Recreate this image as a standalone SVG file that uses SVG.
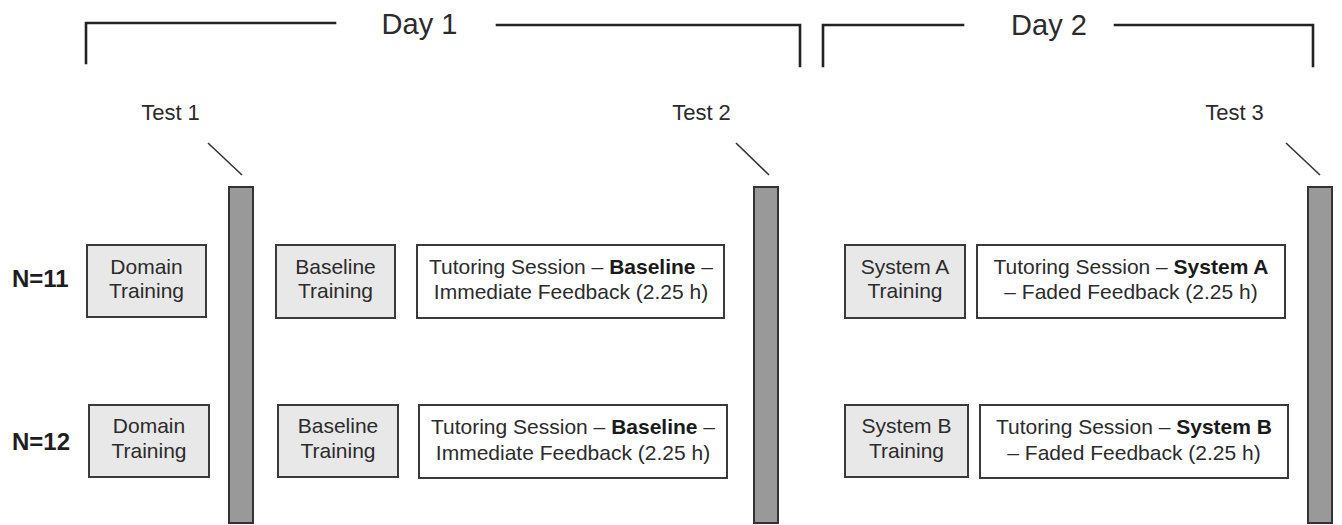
<svg xmlns="http://www.w3.org/2000/svg" width="1342" height="525" viewBox="0 0 1342 525">
  <style>
    text { font-family: "Liberation Sans", Arial, sans-serif; fill: #2b2b2b; }
    .day { font-size: 29px; }
    .test { font-size: 22px; }
    .grp { font-size: 24px; font-weight: bold; fill: #1e1e1e; }
    .lbl { font-size: 21px; text-anchor: middle; }
    .b { font-weight: bold; fill: #1a1a1a; }
    .bracket { fill: none; stroke: #222; stroke-width: 2.6; stroke-linecap: square; }
    .train { fill: #e8e8e8; stroke: #3a3a3a; stroke-width: 2; }
    .session { fill: #ffffff; stroke: #3a3a3a; stroke-width: 2; }
    .bar { fill: #999999; stroke: #333; stroke-width: 2; }
    .pointer { stroke: #333; stroke-width: 1.6; }
  </style>

  <!-- day brackets -->
  <g id="day1">
    <path class="bracket" d="M86,63 L86,23 L335,23"/>
    <path class="bracket" d="M497,25 L800,25 L800,66"/>
    <text class="day" x="419.5" y="33.5" text-anchor="middle">Day 1</text>
  </g>
  <g id="day2">
    <path class="bracket" d="M823,66 L823,25 L963,25"/>
    <path class="bracket" d="M1115,25 L1313,25 L1313,66"/>
    <text class="day" x="1049" y="34.5" text-anchor="middle">Day 2</text>
  </g>

  <!-- test bars -->
  <g id="test1">
    <text class="test" x="170.5" y="120" text-anchor="middle">Test 1</text>
    <rect class="bar" x="229" y="187" width="24" height="336"/>
  </g>
  <g id="test2">
    <text class="test" x="701.5" y="120" text-anchor="middle">Test 2</text>
    <rect class="bar" x="754" y="187" width="24" height="336"/>
  </g>
  <g id="test3">
    <text class="test" x="1234.5" y="120" text-anchor="middle">Test 3</text>
    <rect class="bar" x="1308" y="187" width="24" height="336"/>
  </g>

  <!-- group labels -->
  <g id="group11"><text class="grp" x="12" y="287">N=11</text></g>
  <g id="group12"><text class="grp" x="12" y="450">N=12</text></g>

  <!-- row N=11 -->
  <g id="domain1">
    <rect class="train" x="87" y="245" width="119" height="72"/>
    <text class="lbl" x="146.5" y="274">Domain</text>
    <text class="lbl" x="146.5" y="298">Training</text>
  </g>
  <g id="baselineTraining1">
    <rect class="train" x="276" y="245" width="119" height="73"/>
    <text class="lbl" x="335.5" y="274">Baseline</text>
    <text class="lbl" x="335.5" y="298">Training</text>
  </g>
  <g id="sessionBaseline1">
    <rect class="session" x="417" y="245" width="307" height="73"/>
    <text class="lbl" x="571" y="274">Tutoring Session – <tspan class="b">Baseline</tspan> –</text>
    <text class="lbl" x="571" y="299">Immediate Feedback (2.25 h)</text>
  </g>
  <g id="systemATraining">
    <rect class="train" x="845" y="245" width="120" height="73"/>
    <text class="lbl" x="905" y="274">System A</text>
    <text class="lbl" x="905" y="298">Training</text>
  </g>
  <g id="sessionSystemA">
    <rect class="session" x="977" y="245" width="308" height="73"/>
    <text class="lbl" x="1131" y="274">Tutoring Session – <tspan class="b">System A</tspan></text>
    <text class="lbl" x="1131" y="299">– Faded Feedback (2.25 h)</text>
  </g>

  <!-- row N=12 -->
  <g id="domain2">
    <rect class="train" x="89" y="405" width="120" height="72"/>
    <text class="lbl" x="149" y="433">Domain</text>
    <text class="lbl" x="149" y="458">Training</text>
  </g>
  <g id="baselineTraining2">
    <rect class="train" x="278" y="405" width="120" height="72"/>
    <text class="lbl" x="338" y="433">Baseline</text>
    <text class="lbl" x="338" y="458">Training</text>
  </g>
  <g id="sessionBaseline2">
    <rect class="session" x="419" y="405" width="308" height="73"/>
    <text class="lbl" x="573" y="434">Tutoring Session – <tspan class="b">Baseline</tspan> –</text>
    <text class="lbl" x="573" y="460">Immediate Feedback (2.25 h)</text>
  </g>
  <g id="systemBTraining">
    <rect class="train" x="845" y="405" width="123" height="72"/>
    <text class="lbl" x="906.5" y="433">System B</text>
    <text class="lbl" x="906.5" y="458">Training</text>
  </g>
  <g id="sessionSystemB">
    <rect class="session" x="980" y="405" width="308" height="73"/>
    <text class="lbl" x="1134" y="434">Tutoring Session – <tspan class="b">System B</tspan></text>
    <text class="lbl" x="1134" y="460">– Faded Feedback (2.25 h)</text>
  </g>

  <!-- pointers from test labels to bars -->
  <g id="connectors">
    <line class="pointer" x1="208" y1="143" x2="242" y2="175"/>
    <line class="pointer" x1="736" y1="143" x2="769" y2="175"/>
    <line class="pointer" x1="1286" y1="143" x2="1320" y2="175"/>
  </g>
</svg>
